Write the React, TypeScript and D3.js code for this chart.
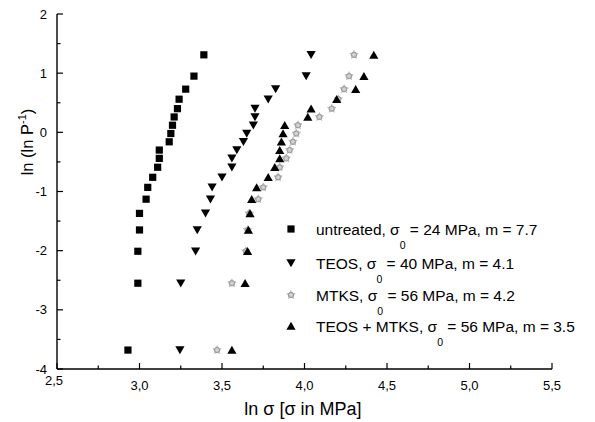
import React from "react";
import * as d3 from "d3";

// Weibull plot values
const lnlnP = [-3.68, -2.55, -2.01, -1.65, -1.37, -1.13, -0.93, -0.76, -0.59, -0.44, -0.30, -0.16, -0.02, 0.12, 0.26, 0.40, 0.56, 0.73, 0.95, 1.31];
const untreatedX = [2.93, 2.99, 2.99, 3.0, 3.0, 3.04, 3.05, 3.08, 3.11, 3.12, 3.12, 3.18, 3.19, 3.2, 3.21, 3.23, 3.24, 3.28, 3.33, 3.39];
const teosX = [3.245, 3.25, 3.34, 3.35, 3.4, 3.43, 3.44, 3.5, 3.56, 3.56, 3.59, 3.63, 3.65, 3.69, 3.7, 3.7, 3.78, 3.825, 4.01, 4.04];
const mtksX = [3.47, 3.56, 3.645, 3.655, 3.665, 3.72, 3.75, 3.84, 3.85, 3.89, 3.91, 3.93, 3.95, 3.96, 4.09, 4.165, 4.205, 4.24, 4.27, 4.3];
const teosMtksX = [3.56, 3.64, 3.655, 3.66, 3.67, 3.68, 3.71, 3.78, 3.82, 3.85, 3.85, 3.86, 3.87, 3.88, 4.02, 4.04, 4.195, 4.31, 4.36, 4.42];

const legendNames = ["untreated", "TEOS", "MTKS", "TEOS + MTKS"];
const legendSigma0 = [24, 40, 56, 56];
const legendM = ["7.7", "4.1", "4.2", "3.5"];

const xTicks = [2.5, 3.0, 3.5, 4.0, 4.5, 5.0, 5.5];
const yTicks = [-4, -3, -2, -1, 0, 1, 2];

const W = 595, H = 422;
const x = d3.scaleLinear().domain([2.5, 5.5]).range([57, 552]);
const y = d3.scaleLinear().domain([-4, 2]).range([369, 14]);

type Kind = "square" | "down" | "star" | "up";

function Marker({ kind, cx, cy }: { kind: Kind; cx: number; cy: number }) {
  if (kind === "square") {
    return <rect x={cx - 3.6} y={cy - 3.6} width={7.2} height={7.2} fill="#000" />;
  }
  if (kind === "down") {
    return <path d={`M${cx - 4.6},${cy - 3.8}L${cx + 4.6},${cy - 3.8}L${cx},${cy + 4.2}Z`} fill="#000" />;
  }
  if (kind === "up") {
    return <path d={`M${cx - 4.6},${cy + 3.8}L${cx + 4.6},${cy + 3.8}L${cx},${cy - 4.2}Z`} fill="#000" />;
  }
  const star = d3.symbol().type(d3.symbolStar).size(22)()!;
  return (
    <g transform={`translate(${cx},${cy})`}>
      <circle r={2.7} fill="#d4d4d4" stroke="#8c8c8c" strokeWidth={0.9} />
      <path d={star} fill="none" stroke="#a0a0a0" strokeWidth={0.6} />
    </g>
  );
}

const series: { kind: Kind; xs: number[] }[] = [
  { kind: "square", xs: untreatedX },
  { kind: "down", xs: teosX },
  { kind: "star", xs: mtksX },
  { kind: "up", xs: teosMtksX },
];

export default function App() {
  const font = "Liberation Sans, Arial, Helvetica, sans-serif";
  const minorX = d3.range(2.75, 5.5, 0.5);
  const minorY = d3.range(-3.5, 2, 1);
  const legendY = [229, 263, 295, 326];
  return (
    <svg width={W} height={H} style={{ position: "absolute", left: 0, top: 0, background: "#fff" }} fontFamily={font}>
      {/* axes */}
      <line x1={x(2.5)} x2={x(5.5)} y1={y(-4)} y2={y(-4)} stroke="#000" strokeWidth={1.4} />
      <line x1={x(2.5)} x2={x(2.5)} y1={y(-4)} y2={y(2)} stroke="#000" strokeWidth={1.4} />
      {xTicks.map((t) => (
        <g key={"xt" + t}>
          <line x1={x(t)} x2={x(t)} y1={y(-4)} y2={y(-4) - 6} stroke="#000" strokeWidth={1.2} />
          <text x={t === 2.5 ? x(t) - 3 : x(t)} y={y(-4) + (t === 2.5 ? 16 : 21)} fontSize={13} textAnchor="middle">
            {t.toFixed(1).replace(".", ",")}
          </text>
        </g>
      ))}
      {minorX.map((t) => (
        <line key={"xm" + t} x1={x(t)} x2={x(t)} y1={y(-4)} y2={y(-4) - 3.5} stroke="#000" strokeWidth={1.2} />
      ))}
      {yTicks.map((t) => (
        <g key={"yt" + t}>
          <line x1={x(2.5)} x2={x(2.5) + 6} y1={y(t)} y2={y(t)} stroke="#000" strokeWidth={1.2} />
          <text x={47} y={y(t) + 4.5} fontSize={13} textAnchor="end">
            {t}
          </text>
        </g>
      ))}
      {minorY.map((t) => (
        <line key={"ym" + t} x1={x(2.5)} x2={x(2.5) + 3.5} y1={y(t)} y2={y(t)} stroke="#000" strokeWidth={1.2} />
      ))}
      {/* axis titles */}
      <text x={303} y={415} fontSize={18} textAnchor="middle">ln σ [σ in MPa]</text>
      <text transform="translate(33,142) rotate(-90)" fontSize={16.5} textAnchor="middle">
        ln (ln P<tspan dy={-7} fontSize={11}>-1</tspan><tspan dy={7}>)</tspan>
      </text>
      {/* data */}
      {series.map((s) =>
        s.xs.map((v, i) => <Marker key={s.kind + i} kind={s.kind} cx={x(v)} cy={y(lnlnP[i])} />)
      )}
      {/* legend */}
      {series.map((s, i) => (
        <g key={"lg" + i}>
          <Marker kind={s.kind} cx={291} cy={legendY[i]} />
          <text x={316} y={legendY[i] + 5.5} fontSize={15.5}>
            {legendNames[i]}, σ
            <tspan dy={14} fontSize={10.5}>0</tspan>
            <tspan dy={-14}>{` = ${legendSigma0[i]} MPa, m = ${legendM[i]}`}</tspan>
          </text>
        </g>
      ))}
    </svg>
  );
}
